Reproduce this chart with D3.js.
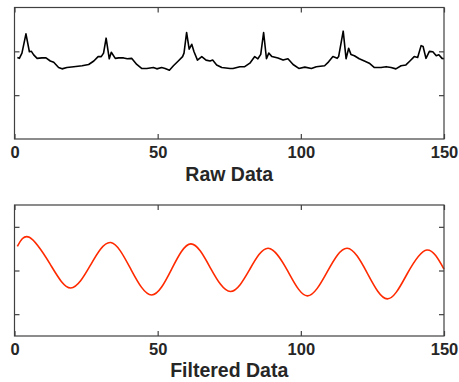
<!DOCTYPE html>
<html>
<head>
<meta charset="utf-8">
<script src="https://cdn.jsdelivr.net/npm/d3@7"></script>
<style>
  body { margin: 0; background: #fff; }
  text { font-family: "Liberation Sans", Arial, sans-serif; font-weight: bold; fill: #262626; }
</style>
</head>
<body>
<div id="chart"></div>
<script>
// values
const rawX = [1, 1.7, 2.6, 4, 5.2, 5.9, 6.7, 7.9, 9.6, 11, 12.5, 13.7, 15.4, 16.6, 18.3, 20.7, 23.6, 25.9, 27.7, 29.2, 30.3, 31.1, 32, 33.1, 33.8, 35.2, 36.4, 38.1,
  39.4, 40.9, 42.7, 44.4, 46.2, 48.5, 49.7, 51.4, 52.6, 54.1, 55.5, 57.2, 58.7, 59.2, 60.1, 61, 61.9, 62.7, 63.9, 65.4, 66.9, 68.3, 69.2, 70.6, 72.4, 75.3,
  76.3, 78.7, 80.4, 82.2, 83.9, 85, 86, 87, 88, 88.8, 89.9, 92, 93.8, 95.5, 97.3, 99.3, 101.4, 103.7, 105.4, 108.3, 109.7, 111.2, 112.7,
  113.2, 114.8, 115.8, 116.7, 117.5, 118.7, 120.4, 122.2, 123.9, 125.7, 128, 129.8, 131.5, 133.2, 135, 136.7, 138.1, 139.6, 140.8, 142, 142.7, 143.7, 144.9, 146.1, 147.3, 148.2, 149.3, 150];
const rawY = [1.86, 1.84, 1.96, 2.40, 1.99, 2.0, 1.92, 1.84, 1.85, 1.85, 1.78, 1.75, 1.63, 1.60, 1.63, 1.65, 1.67, 1.70, 1.78, 1.88, 1.88, 1.96, 2.30, 1.83, 1.98, 1.84, 1.85, 1.85,
  1.83, 1.84, 1.70, 1.61, 1.61, 1.63, 1.60, 1.63, 1.61, 1.57, 1.67, 1.78, 1.88, 1.96, 2.43, 2.05, 2.16, 1.99, 1.80, 1.88, 1.80, 1.78, 1.80, 1.69, 1.63, 1.61,
  1.61, 1.65, 1.65, 1.73, 1.88, 1.83, 1.93, 2.43, 1.83, 1.96, 1.88, 1.85, 1.80, 1.83, 1.70, 1.61, 1.64, 1.61, 1.65, 1.67, 1.76, 1.88, 1.84,
  1.88, 2.46, 1.83, 2.07, 1.93, 1.90, 1.83, 1.78, 1.73, 1.63, 1.63, 1.65, 1.63, 1.60, 1.67, 1.69, 1.78, 1.88, 1.86, 2.13, 2.11, 1.84, 2.0, 1.99, 1.90, 1.92, 1.84, 1.83];

const filtX = [1, 5.2, 12.4, 19.6, 26.6, 33.6, 40.7, 47.9, 54.8, 61.6, 68.5, 75.4, 82.1, 88.6, 95.5, 102.3, 109.3, 116.2, 123.2, 130.2, 137.1, 144, 150];
const filtY = [0.55, 0.76, 0.15, -0.40, 0.13, 0.64, 0.02, -0.56, 0.02, 0.61, 0.05, -0.48, 0.02, 0.51, -0.02, -0.58, -0.02, 0.51, -0.06, -0.65, -0.08, 0.47, 0.03];

const xTicks = [0, 50, 100, 150];
const rawYTicks = [1, 2];
const filtYTicks = [-1, 0, 1];

const width = 459, height = 382;
const left = 14.5, right = 444;

const svg = d3.select("#chart").append("svg")
  .attr("width", width)
  .attr("height", height);

function panel(top, bottom, yDomain, yTicks, xs, ys, color, curve, title, titleY) {
  const x = d3.scaleLinear().domain([0, 150]).range([left, right]);
  const y = d3.scaleLinear().domain(yDomain).range([bottom, top]);
  const g = svg.append("g");

  g.append("path")
    .datum(xs.map((v, i) => [v, ys[i]]))
    .attr("fill", "none")
    .attr("stroke", color)
    .attr("stroke-width", 1.6)
    .attr("stroke-linejoin", "round")
    .attr("d", d3.line().x(d => x(d[0])).y(d => y(d[1])).curve(curve));

  // box
  g.append("rect")
    .attr("x", left).attr("y", top)
    .attr("width", right - left).attr("height", bottom - top)
    .attr("fill", "none").attr("stroke", "#404040").attr("stroke-width", 1.2);

  const axB = g.append("g")
    .attr("transform", `translate(0,${bottom})`)
    .call(d3.axisBottom(x).tickValues(xTicks).tickSize(-5).tickSizeOuter(0).tickPadding(7.5));
  axB.select(".domain").remove();
  axB.selectAll("text").attr("font-size", 16.5).attr("font-family", null);

  const axT = g.append("g")
    .attr("transform", `translate(0,${top})`)
    .call(d3.axisTop(x).tickValues(xTicks).tickSize(-5).tickSizeOuter(0).tickFormat(""));
  axT.select(".domain").remove();

  const axL = g.append("g")
    .attr("transform", `translate(${left},0)`)
    .call(d3.axisLeft(y).tickValues(yTicks).tickSize(-5).tickSizeOuter(0).tickFormat(""));
  axL.select(".domain").remove();

  const axR = g.append("g")
    .attr("transform", `translate(${right},0)`)
    .call(d3.axisRight(y).tickValues(yTicks).tickSize(-5).tickSizeOuter(0).tickFormat(""));
  axR.select(".domain").remove();

  g.selectAll(".tick line").attr("stroke", "#404040").attr("stroke-width", 1.2);

  g.append("text")
    .attr("x", (left + right) / 2)
    .attr("y", titleY)
    .attr("text-anchor", "middle")
    .attr("font-size", 19.5)
    .text(title);
}

panel(7.5, 139, [0, 3], rawYTicks, rawX, rawY, "#000", d3.curveLinear, "Raw Data", 180.7);
panel(205, 336, [-1.5, 1.5], filtYTicks, filtX, filtY, "#ff2a00", d3.curveNatural, "Filtered Data", 377.3);
</script>
</body>
</html>
